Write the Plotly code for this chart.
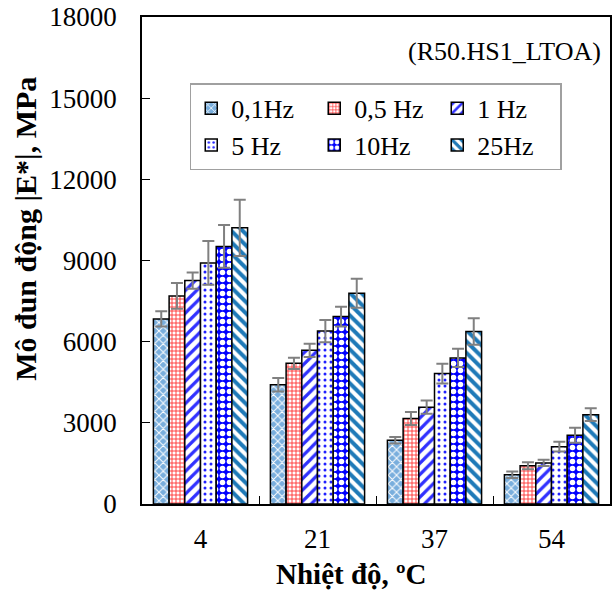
import plotly.graph_objects as go

categories = ["4", "21", "37", "54"]
series_names = ["0,1Hz", "0,5 Hz", "1 Hz", "5 Hz", "10Hz", "25Hz"]
y_ticks = [0, 3000, 6000, 9000, 12000, 15000, 18000]

v_01 = [6840, 4410, 2360, 1080]
v_05 = [7690, 5200, 3160, 1410]
v_1 = [8260, 5680, 3580, 1520]
v_5 = [8910, 6390, 4820, 2120]
v_10 = [9520, 6930, 5400, 2540]
v_25 = [10210, 7790, 6380, 3300]

e_01 = [280, 250, 120, 120]
e_05 = [475, 210, 240, 130]
e_1 = [300, 245, 245, 120]
e_5 = [810, 410, 365, 180]
e_10 = [790, 365, 340, 280]
e_25 = [1040, 540, 490, 235]

values = [v_01, v_05, v_1, v_5, v_10, v_25]
errors = [e_01, e_05, e_1, e_5, e_10, e_25]

patterns = [
    dict(shape="x", bgcolor="#79AEDD", fgcolor="white", size=6, solidity=0.3, fillmode="replace"),
    dict(shape="+", bgcolor="white", fgcolor="#FF3030", size=4, solidity=0.4, fillmode="replace"),
    dict(shape="/", bgcolor="white", fgcolor="#3030FF", size=8, solidity=0.4, fillmode="replace"),
    dict(shape=".", bgcolor="white", fgcolor="#2020FF", size=6, solidity=0.2, fillmode="replace"),
    dict(shape=".", bgcolor="#0000FF", fgcolor="white", size=7, solidity=0.5, fillmode="replace"),
    dict(shape="\\", bgcolor="white", fgcolor="#1F7AB8", size=8, solidity=0.5, fillmode="replace"),
]

FONT = "Liberation Serif"

fig = go.Figure()
for name, vals, errs, pat in zip(series_names, values, errors, patterns):
    fig.add_trace(go.Bar(
        x=categories, y=vals, name=name,
        marker=dict(pattern=pat, line=dict(color="black", width=1.5)),
        error_y=dict(type="data", array=errs, visible=True, color="#808080", thickness=2, width=6),
    ))

fig.update_layout(
    width=614, height=594,
    margin=dict(l=142, r=2, t=11, b=90),
    paper_bgcolor="white", plot_bgcolor="white",
    barmode="group", bargap=0.195, bargroupgap=0,
    font=dict(family=FONT, size=26, color="black"),
    showlegend=True,
    legend=dict(
        orientation="h", x=0.102, y=0.864, xanchor="left", yanchor="top",
        bordercolor="#A0A0A0", borderwidth=1.5, bgcolor="white",
        font=dict(family=FONT, size=26), entrywidth=78, itemwidth=30,
        tracegroupgap=0,
    ),
    annotations=[
        dict(
            text="(R50.HS1_LTOA)", xref="paper", yref="paper", x=0.985, y=0.93,
            xanchor="right", yanchor="middle", showarrow=False,
            font=dict(family=FONT, size=26),
        ),
        dict(
            text="<b>Mô đun động |E*|, MPa</b>", xref="paper", yref="paper",
            x=-0.249, y=0.566, xanchor="center", yanchor="middle", textangle=-90,
            showarrow=False, font=dict(family=FONT, size=30),
        ),
        dict(
            text="<b>Nhiệt độ, ºC</b>", xref="paper", yref="paper",
            x=0.447, y=-0.144, xanchor="center", yanchor="middle",
            showarrow=False, font=dict(family=FONT, size=29),
        ),
    ],
)

fig.update_xaxes(
    type="category", showline=True, linecolor="black", linewidth=1.5, mirror=True,
    ticks="inside", ticklen=8, tickcolor="black", tickson="boundaries",
    tickfont=dict(family=FONT, size=27), showgrid=False, ticklabelstandoff=10,
)
fig.update_yaxes(
    range=[0, 18000], tickvals=y_ticks, ticktext=[str(t) for t in y_ticks],
    showline=True, linecolor="black", linewidth=1.5, mirror=True,
    ticks="inside", ticklen=8, tickcolor="black", showgrid=False, zeroline=False,
    tickfont=dict(family=FONT, size=27), ticklabelstandoff=18, ticklabeloverflow="allow",
)

fig.write_html("out.html")
